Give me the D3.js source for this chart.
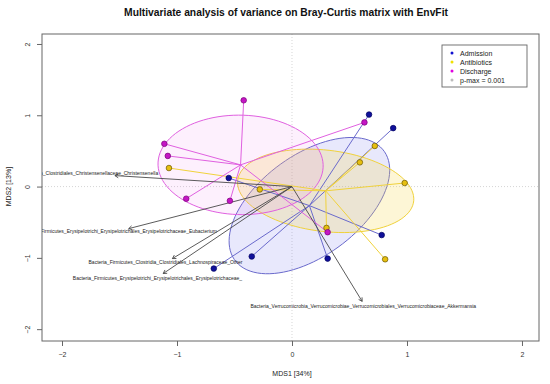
<!DOCTYPE html>
<html>
<head>
<meta charset="utf-8">
<script src="https://cdn.jsdelivr.net/npm/d3@7"></script>
<style>
  body { margin: 0; background: #fff; }
  text { font-family: "Liberation Sans", Arial, sans-serif; }
</style>
</head>
<body>
<div id="chart"></div>
<script>
// site scores (MDS1, MDS2) by group
var groups = ["Admission", "Antibiotics", "Discharge"];
var admissionX = [0.67, 0.88, -0.55, -0.35, -0.68, 0.78, 0.31];
var admissionY = [1.01, 0.82, 0.12, -0.98, -1.15, -0.68, -1.01];
var antibioticsX = [-1.07, -0.28, 0.59, 0.72, 0.98, 0.30, 0.81];
var antibioticsY = [0.26, -0.04, 0.34, 0.57, 0.05, -0.58, -1.02];
var dischargeX = [-0.42, -1.11, -1.08, -0.92, -0.54, 0.63, 0.31];
var dischargeY = [1.21, 0.60, 0.43, -0.17, -0.20, 0.90, -0.64];

// envfit vectors
var taxa = [
  "Bacteria_Firmicutes_Clostridia_Clostridiales_Christensenellaceae_Christensenella",
  "Bacteria_Firmicutes_Erysipelotrichi_Erysipelotrichales_Erysipelotrichaceae_Eubacterium",
  "Bacteria_Firmicutes_Clostridia_Clostridiales_Lachnospiraceae_Other",
  "Bacteria_Firmicutes_Erysipelotrichi_Erysipelotrichales_Erysipelotrichaceae_",
  "Bacteria_Verrucomicrobia_Verrucomicrobiae_Verrucomicrobiales_Verrucomicrobiaceae_Akkermansia"
];
var arrowX = [-1.54, -1.42, -1.04, -1.12, 0.61];
var arrowY = [0.154, -0.59, -1.01, -1.22, -1.61];
var labelX = [-1.96, -1.51, -1.10, -1.17, 0.62];
var labelY = [0.196, -0.62, -1.06, -1.28, -1.67];

var xTicks = [-2, -1, 0, 1, 2];
var yTicks = [-2, -1, 0, 1, 2];
var legendLabels = ["Admission", "Antibiotics", "Discharge", "p-max = 0.001"];

var width = 550, height = 384;
var margin = ({top: 34, right: 11, bottom: 43, left: 42});

var pointFill = {Admission: "#10109a", Antibiotics: "#e6bf10", Discharge: "#c416c4"};
var pointStroke = {Admission: "#000060", Antibiotics: "#6a5600", Discharge: "#7a007a"};
var lineColor = {Admission: "#6a6acc", Antibiotics: "#f0d23c", Discharge: "#e060e0"};
var ellFill = {Admission: "rgba(110,110,235,0.16)", Antibiotics: "rgba(245,215,70,0.22)", Discharge: "rgba(235,90,235,0.09)"};
var legendColor = ["#1010d0", "#f0e000", "#e000e0", "#bbbbbb"];

var x = d3.scaleLinear().domain([-2.174, 2.148]).range([margin.left, width - margin.right]);
var y = d3.scaleLinear().domain([-2.166, 2.14]).range([height - margin.bottom, margin.top]);

function groupPoints(g) {
  var xs = g === "Admission" ? admissionX : g === "Antibiotics" ? antibioticsX : dischargeX;
  var ys = g === "Admission" ? admissionY : g === "Antibiotics" ? antibioticsY : dischargeY;
  return xs.map((v, i) => ({group: g, x: v, y: ys[i]}));
}

// standard deviation ellipse from covariance (like ordiellipse kind="sd")
function sdEllipse(pts, scale) {
  var n = pts.length;
  var mx = d3.mean(pts, d => d.x), my = d3.mean(pts, d => d.y);
  var sxx = d3.sum(pts, d => (d.x - mx) ** 2) / (n - 1);
  var syy = d3.sum(pts, d => (d.y - my) ** 2) / (n - 1);
  var sxy = d3.sum(pts, d => (d.x - mx) * (d.y - my)) / (n - 1);
  var tr = sxx + syy, det = sxx * syy - sxy * sxy;
  var l1 = tr / 2 + Math.sqrt(tr * tr / 4 - det), l2 = tr / 2 - Math.sqrt(tr * tr / 4 - det);
  var ang = Math.atan2(l1 - sxx, sxy);
  if (Math.abs(sxy) < 1e-12) ang = sxx >= syy ? 0 : Math.PI / 2;
  var a = Math.sqrt(l1) * scale, b = Math.sqrt(l2) * scale;
  return d3.range(0, 101).map(i => {
    var t = i / 100 * 2 * Math.PI;
    var ex = a * Math.cos(t), ey = b * Math.sin(t);
    return [mx + ex * Math.cos(ang) - ey * Math.sin(ang), my + ex * Math.sin(ang) + ey * Math.cos(ang)];
  });
}

function drawChart() {
  var svg = d3.select("#chart").append("svg")
      .attr("width", width)
      .attr("height", height);

  svg.append("rect").attr("width", width).attr("height", height).attr("fill", "#fff");

  svg.append("defs").append("clipPath").attr("id", "plotclip")
    .append("rect")
      .attr("x", margin.left).attr("y", margin.top)
      .attr("width", width - margin.left - margin.right)
      .attr("height", height - margin.top - margin.bottom);

  // title
  svg.append("text")
      .attr("x", 286).attr("y", 16)
      .attr("text-anchor", "middle")
      .style("font-size", "10.3px")
      .style("font-weight", "bold")
      .attr("fill", "#111")
      .text("Multivariate analysis of variance on Bray-Curtis matrix with EnvFit");

  var plot = svg.append("g").attr("clip-path", "url(#plotclip)");

  // zero lines
  plot.append("line")
      .attr("x1", x(0)).attr("x2", x(0)).attr("y1", margin.top).attr("y2", height - margin.bottom)
      .attr("stroke", "#ccc").attr("stroke-dasharray", "1,2").attr("stroke-width", 0.8);
  plot.append("line")
      .attr("y1", y(0)).attr("y2", y(0)).attr("x1", margin.left).attr("x2", width - margin.right)
      .attr("stroke", "#ccc").attr("stroke-dasharray", "1,2").attr("stroke-width", 0.8);

  var line = d3.line().x(d => x(d[0])).y(d => y(d[1]));
  var data = groups.map(g => ({group: g, pts: groupPoints(g)}));

  // ellipses
  plot.selectAll(".ell")
    .data(data)
    .join("path")
      .attr("class", "ell")
      .attr("d", d => line(sdEllipse(d.pts, 1.05)))
      .attr("fill", d => ellFill[d.group])
      .attr("stroke", d => lineColor[d.group])
      .attr("stroke-width", 1);

  // spiders
  data.forEach(d => {
    var cx = d3.mean(d.pts, p => p.x), cy = d3.mean(d.pts, p => p.y);
    plot.append("g").selectAll("line")
      .data(d.pts)
      .join("line")
        .attr("x1", x(cx)).attr("y1", y(cy))
        .attr("x2", p => x(p.x)).attr("y2", p => y(p.y))
        .attr("stroke", lineColor[d.group])
        .attr("stroke-width", 1);
  });

  // envfit arrows
  var arrows = taxa.map((t, i) => ({name: t, x: arrowX[i], y: arrowY[i], lx: labelX[i], ly: labelY[i]}));
  var ag = plot.append("g");
  arrows.forEach(a => {
    var x0 = x(0), y0 = y(0), x1 = x(a.x), y1 = y(a.y);
    var ang = Math.atan2(y1 - y0, x1 - x0);
    var hl = 4, ha = Math.PI / 6;
    ag.append("path")
      .attr("d", `M${x0},${y0}L${x1},${y1}` +
        `M${x1 - hl * Math.cos(ang - ha)},${y1 - hl * Math.sin(ang - ha)}L${x1},${y1}` +
        `L${x1 - hl * Math.cos(ang + ha)},${y1 - hl * Math.sin(ang + ha)}`)
      .attr("fill", "none")
      .attr("stroke", "#484848")
      .attr("stroke-width", 0.9);
    ag.append("text")
      .attr("x", x(a.lx)).attr("y", y(a.ly))
      .attr("text-anchor", "middle")
      .attr("dominant-baseline", "central")
      .style("font-size", "5px")
      .attr("fill", "#222")
      .text(a.name);
  });

  // points
  data.forEach(d => {
    plot.append("g").selectAll("circle")
      .data(d.pts)
      .join("circle")
        .attr("cx", p => x(p.x)).attr("cy", p => y(p.y))
        .attr("r", 2.8)
        .attr("fill", pointFill[d.group])
        .attr("stroke", pointStroke[d.group])
        .attr("stroke-width", 0.7);
  });

  // frame
  svg.append("rect")
      .attr("x", margin.left).attr("y", margin.top)
      .attr("width", width - margin.left - margin.right)
      .attr("height", height - margin.top - margin.bottom)
      .attr("fill", "none").attr("stroke", "#666").attr("stroke-width", 1);

  // axes
  var xAxis = d3.axisBottom(x).tickValues(xTicks).tickSize(5).tickPadding(6).tickFormat(d => d < 0 ? "\u2212" + Math.abs(d) : d);
  var gx = svg.append("g").attr("transform", `translate(0,${height - margin.bottom})`).call(xAxis);
  gx.select(".domain").remove();
  gx.selectAll("line").attr("stroke", "#666");
  gx.selectAll("text").style("font-size", "7px").attr("fill", "#333").attr("font-family", null);

  var yAxis = d3.axisLeft(y).tickValues(yTicks).tickSize(5).tickFormat(d => d < 0 ? "\u2212" + Math.abs(d) : d);
  var gy = svg.append("g").attr("transform", `translate(${margin.left},0)`).call(yAxis);
  gy.select(".domain").remove();
  gy.selectAll("line").attr("stroke", "#666");
  gy.selectAll("text")
      .attr("x", null).attr("dy", null)
      .attr("text-anchor", "middle")
      .attr("transform", "translate(-12,0) rotate(-90)")
      .style("font-size", "7px").attr("fill", "#333").attr("font-family", null);

  svg.append("text")
      .attr("x", x(0)).attr("y", 376)
      .attr("text-anchor", "middle")
      .style("font-size", "7px").attr("fill", "#222")
      .text("MDS1 [34%]");
  svg.append("text")
      .attr("transform", `translate(11,${y(0)}) rotate(-90)`)
      .attr("text-anchor", "middle")
      .style("font-size", "7px").attr("fill", "#222")
      .text("MDS2 [13%]");

  // legend
  var lg = svg.append("g").attr("transform", "translate(442,45)");
  lg.append("rect").attr("width", 85).attr("height", 42)
      .attr("fill", "#fff").attr("stroke", "#666").attr("stroke-width", 0.9);
  lg.selectAll("circle")
    .data(legendLabels)
    .join("circle")
      .attr("cx", 10).attr("cy", (d, i) => 8 + i * 9)
      .attr("r", 1.5)
      .attr("fill", (d, i) => legendColor[i]);
  lg.selectAll("text")
    .data(legendLabels)
    .join("text")
      .attr("x", 18).attr("y", (d, i) => 8 + i * 9)
      .attr("dominant-baseline", "central")
      .style("font-size", "7px").attr("fill", "#222")
      .text(d => d);
}

window.onload = drawChart;
</script>
</body>
</html>
